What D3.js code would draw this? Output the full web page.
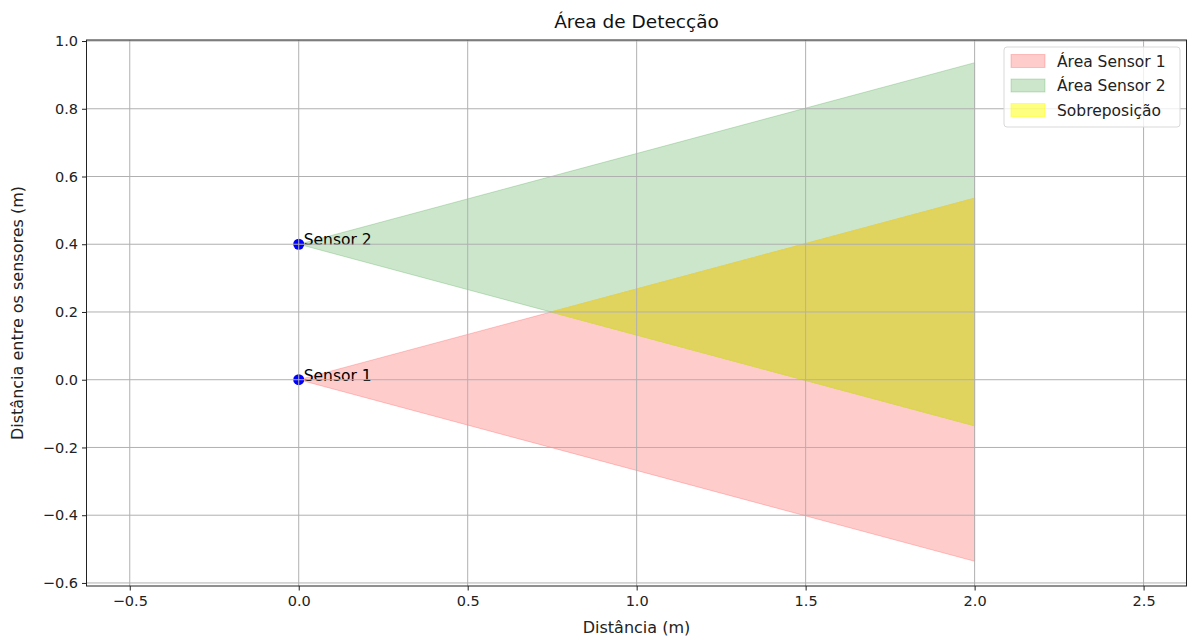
<!DOCTYPE html>
<html>
<head>
<meta charset="utf-8">
<script src="https://cdn.jsdelivr.net/npm/d3@7"></script>
<style>
  html, body { margin: 0; padding: 0; background: #fff; }
  svg { display: block; font-family: "DejaVu Sans", sans-serif; }
</style>
</head>
<body>
<svg id="chart" width="1187" height="637"></svg>
<script>
// ---- data ----
const sensorNames = ["Sensor 1", "Sensor 2"];
const sensorX = [0.0, 0.0];
const sensorY = [0.0, 0.4];
// detection cone vertices [x, y]
const area1 = [[0.0, 0.0], [2.0, 0.536], [2.0, -0.536]];
const area2 = [[0.0, 0.4], [2.0, 0.936], [2.0, -0.136]];
const overlap = [[0.746, 0.2], [2.0, 0.536], [2.0, -0.136]];
const legendLabels = ["Área Sensor 1", "Área Sensor 2", "Sobreposição"];
const xTicks = [-0.5, 0.0, 0.5, 1.0, 1.5, 2.0, 2.5];
const yTicks = [-0.6, -0.4, -0.2, 0.0, 0.2, 0.4, 0.6, 0.8, 1.0];
const xDomain = [-0.628, 2.627];
const yDomain = [-0.609, 1.003];

// ---- layout ----
const svg = d3.select("#chart");
const L = 86.5, R = 1186.5, T = 40, B = 586;
const x = d3.scaleLinear().domain(xDomain).range([L, R]);
const y = d3.scaleLinear().domain(yDomain).range([B, T]);

const colors = {
  a1: "rgba(255,0,0,0.2)",
  a2: "rgba(0,128,0,0.2)",
  ov: "rgba(240,232,40,0.55)"
};
const legendColors = ["rgba(255,0,0,0.2)", "rgba(0,128,0,0.2)", "rgba(255,255,0,0.5)"];

svg.append("defs").append("clipPath").attr("id", "clip")
  .append("rect").attr("x", L).attr("y", T).attr("width", R - L).attr("height", B - T);

const plot = svg.append("g").attr("clip-path", "url(#clip)");
const line = d3.line().x(d => x(d[0])).y(d => y(d[1])).curve(d3.curveLinearClosed);

[[area1, colors.a1], [area2, colors.a2], [overlap, colors.ov]].forEach(([pts, c]) => {
  plot.append("path").attr("d", line(pts))
    .attr("fill", c).attr("stroke", c).attr("stroke-width", 1);
});

// sensors
plot.selectAll("circle.sensor").data(sensorNames).join("circle")
  .attr("class", "sensor")
  .attr("cx", (d, i) => x(sensorX[i])).attr("cy", (d, i) => y(sensorY[i]))
  .attr("r", 5.5).attr("fill", "#0000ff");

// grid (above patches as in matplotlib default)
const grid = svg.append("g");
grid.selectAll("line.gx").data(xTicks).join("line")
  .attr("x1", d => x(d)).attr("x2", d => x(d)).attr("y1", T).attr("y2", B)
  .attr("stroke", "#b0b0b0").attr("stroke-width", 1);
grid.selectAll("line.gy").data(yTicks).join("line")
  .attr("y1", d => y(d)).attr("y2", d => y(d)).attr("x1", L).attr("x2", R)
  .attr("stroke", "#b0b0b0").attr("stroke-width", 1);

// labels for sensors
plot.selectAll("text.slabel").data(sensorNames).join("text")
  .attr("x", (d, i) => x(sensorX[i]) + 5).attr("y", (d, i) => y(sensorY[i]) + 1)
  .attr("font-size", 15.5).attr("fill", "#000").text(d => d);

// axes
const fmt = d => d3.format(".1f")(d).replace("-", "\u2212");
const xAxis = svg.append("g").attr("transform", `translate(0,${B})`)
  .call(d3.axisBottom(x).tickValues(xTicks).tickFormat(fmt).tickSize(4.5).tickPadding(3));
const yAxis = svg.append("g").attr("transform", `translate(${L},0)`)
  .call(d3.axisLeft(y).tickValues(yTicks).tickFormat(fmt).tickSize(4.5).tickPadding(4));
[xAxis, yAxis].forEach(a => {
  a.select(".domain").remove();
  a.selectAll("text").attr("font-size", 14.5).attr("fill", "#222").attr("font-family", "DejaVu Sans");
  a.selectAll("line").attr("stroke", "#222");
});
xAxis.selectAll("text").attr("dy", "0.85em");

// spines
svg.append("rect").attr("x", L).attr("y", T).attr("width", R - L).attr("height", B - T)
  .attr("fill", "none").attr("stroke", "#222").attr("stroke-width", 1);

// title & axis labels
svg.append("text").attr("x", (L + R) / 2).attr("y", 28).attr("text-anchor", "middle")
  .attr("font-size", 18.5).attr("fill", "#111").text("Área de Detecção");
svg.append("text").attr("x", (L + R) / 2).attr("y", 633).attr("text-anchor", "middle")
  .attr("font-size", 16).attr("fill", "#222").text("Distância (m)");
svg.append("text").attr("transform", `translate(23,${(T + B) / 2}) rotate(-90)`)
  .attr("text-anchor", "middle").attr("font-size", 16).attr("fill", "#222")
  .text("Distância entre os sensores (m)");

// legend
const lg = svg.append("g").attr("transform", "translate(1004,47)");
lg.append("rect").attr("x", 0).attr("y", 0).attr("width", 176).attr("height", 80)
  .attr("rx", 3).attr("fill", "rgba(255,255,255,0.8)").attr("stroke", "#d9d9d9");
legendLabels.forEach((t, i) => {
  const yy = 14 + i * 24.5;
  lg.append("rect").attr("x", 7).attr("y", yy - 6.5).attr("width", 34).attr("height", 13)
    .attr("fill", legendColors[i]).attr("stroke", legendColors[i]);
  lg.append("text").attr("x", 53).attr("y", yy + 5.5).attr("font-size", 15.5)
    .attr("fill", "#222").text(t);
});
</script>
</body>
</html>
